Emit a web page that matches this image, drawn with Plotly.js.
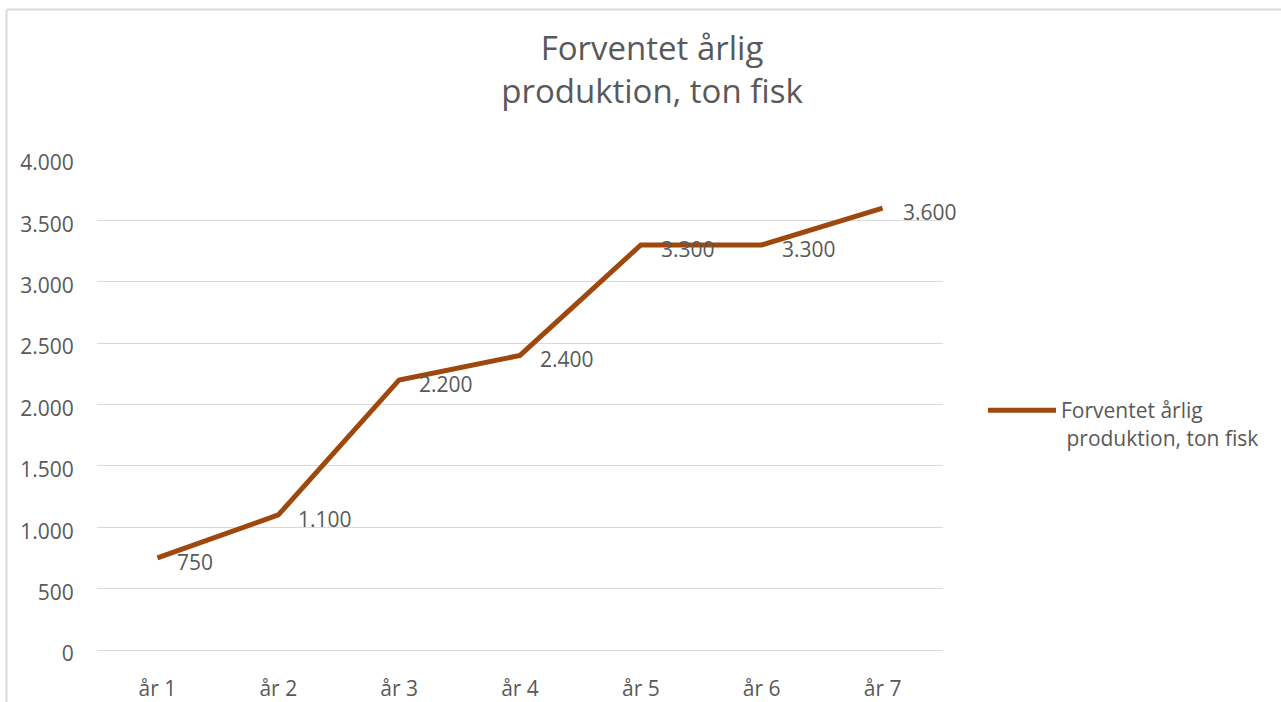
<!DOCTYPE html>
<html>
<head>
<meta charset="utf-8">
<script src="https://cdn.plot.ly/plotly-3.0.1.min.js"></script>
<style>html,body{margin:0;padding:0;background:#fff;}#chart{width:1281px;height:702px;}</style>
</head>
<body>
<div id="chart"></div>
<script>
const categories = ['år 1', 'år 2', 'år 3', 'år 4', 'år 5', 'år 6', 'år 7'];
const production = [750, 1100, 2200, 2400, 3300, 3300, 3600];
const seriesName = 'Forventet årlig<br>\u00a0produktion, ton fisk';
const chartTitle = 'Forventet årlig<br>produktion, ton fisk';

const textColor = '#595959';
const lineColor = '#9E480E';
const gridColor = '#d9d9d9';
const fontFamily = '"Open Sans", "Noto Sans", sans-serif';

function fmt(v) { return String(v).replace(/\B(?=(\d{3})+(?!\d))/g, '.'); }

const W = 1281, H = 702;
const L = 97, R = 338, T = 159, B = 52;
const pw = W - L - R, ph = H - T - B;
const px2x = p => (p - L) / pw;
const py2y = p => (H - B - p) / ph;

const trace = {
  x: categories,
  y: production,
  type: 'scatter',
  mode: 'lines',
  name: seriesName,
  line: { color: lineColor, width: 5 },
  hoverinfo: 'skip'
};

const annotations = categories.map((c, i) => ({
  x: c, y: production[i], xref: 'x', yref: 'y',
  text: fmt(production[i]), showarrow: false,
  xanchor: 'left', yanchor: 'middle', xshift: 18, yshift: -4,
  font: { family: fontFamily, size: 21, color: textColor }
}));

const layout = {
  width: W, height: H,
  margin: { l: L, r: R, t: T, b: B },
  paper_bgcolor: '#fff', plot_bgcolor: '#fff',
  separators: ',.',
  font: { family: fontFamily, size: 21, color: textColor },
  title: {
    text: chartTitle,
    font: { family: fontFamily, size: 33, color: textColor },
    xref: 'container', x: 652 / W, xanchor: 'center',
    yref: 'container', y: 1 - 60 / H, yanchor: 'top'
  },
  xaxis: {
    type: 'category', range: [-0.5, 6.5],
    showgrid: false, zeroline: false,
    showline: true, linecolor: gridColor, linewidth: 1,
    ticks: 'outside', ticklen: 20, tickcolor: 'rgba(0,0,0,0)',
    tickfont: { family: fontFamily, size: 21, color: textColor },
    fixedrange: true
  },
  yaxis: {
    range: [0, 4000], dtick: 500, tick0: 0,
    tickformat: ',d',
    showgrid: true, gridcolor: gridColor, gridwidth: 1,
    zeroline: false, showline: false,
    ticks: 'outside', ticklen: 18, tickcolor: 'rgba(0,0,0,0)',
    ticklabelshift: 4,
    tickfont: { family: fontFamily, size: 21, color: textColor },
    fixedrange: true
  },
  showlegend: true,
  legend: {
    x: px2x(983), y: py2y(390), xanchor: 'left', yanchor: 'top',
    valign: 'top', itemwidth: 68,
    font: { family: fontFamily, size: 21, color: textColor },
    bgcolor: 'rgba(0,0,0,0)'
  },
  annotations: annotations,
  shapes: [
    { type: 'line', xref: 'paper', yref: 'paper', x0: px2x(6.5), x1: px2x(6.5), y0: py2y(710), y1: py2y(9.5), line: { color: '#dadada', width: 2 } },
    { type: 'line', xref: 'paper', yref: 'paper', x0: px2x(6.5), x1: px2x(1290), y0: py2y(9.5), y1: py2y(9.5), line: { color: '#dadada', width: 2 } }
  ]
};

Plotly.newPlot('chart', [trace], layout, { displayModeBar: false, staticPlot: true });
</script>
</body>
</html>
